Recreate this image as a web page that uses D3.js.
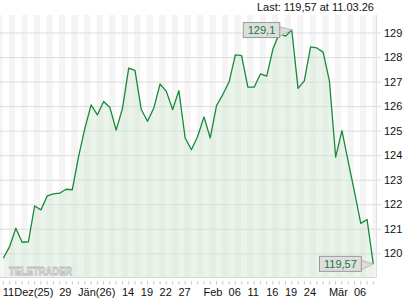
<!DOCTYPE html>
<html>
<head>
<meta charset="utf-8">
<script src="https://cdn.jsdelivr.net/npm/d3@7"></script>
<style>
  body { margin: 0; background: #fff; }
  svg text { font-family: Arial, "Liberation Sans", sans-serif; }
</style>
</head>
<body>
<svg id="svg" width="420" height="300"></svg>
<script>
// trading days shown on the chart
const dates = [
  "2025-12-11","2025-12-12","2025-12-15","2025-12-16","2025-12-17","2025-12-18","2025-12-19",
  "2025-12-22","2025-12-23","2025-12-29","2025-12-30",
  "2026-01-02","2026-01-05","2026-01-06","2026-01-07","2026-01-08","2026-01-09",
  "2026-01-12","2026-01-13","2026-01-14","2026-01-15","2026-01-16",
  "2026-01-19","2026-01-20","2026-01-21","2026-01-22","2026-01-23",
  "2026-01-26","2026-01-27","2026-01-28","2026-01-29","2026-01-30",
  "2026-02-02","2026-02-03","2026-02-04","2026-02-05","2026-02-06",
  "2026-02-09","2026-02-10","2026-02-11","2026-02-12","2026-02-13",
  "2026-02-16","2026-02-17","2026-02-18","2026-02-19","2026-02-20",
  "2026-02-23","2026-02-24","2026-02-25","2026-02-26","2026-02-27",
  "2026-03-02","2026-03-03","2026-03-04","2026-03-05","2026-03-06",
  "2026-03-09","2026-03-10","2026-03-11"
];
const prices = [
  119.8, 120.27, 121.02, 120.45, 120.47, 121.93, 121.77, 122.34, 122.42, 122.45,
  122.61, 122.59, 123.94, 125.08, 126.05, 125.64, 126.19, 125.94, 125.02, 125.9,
  127.55, 127.46, 125.86, 125.38, 125.92, 126.9, 126.6, 125.86, 126.63, 124.7,
  124.22, 124.77, 125.56, 124.7, 126.02, 126.47, 126.98, 128.09, 128.06, 126.77,
  126.77, 127.31, 127.22, 128.33, 128.96, 128.85, 129.1, 126.72, 127.03, 128.41,
  128.37, 128.2, 127.03, 123.92, 125.0, 123.74, 122.5, 121.22, 121.38, 119.57
];
const xTickDates = ["2025-12-11","2025-12-29","2026-01-05","2026-01-14","2026-01-19","2026-01-22","2026-01-27",
  "2026-02-02","2026-02-06","2026-02-11","2026-02-16","2026-02-19","2026-02-24","2026-03-02","2026-03-06"];
const xTickLabels = ["11Dez(25)","29","Jän(26)","14","19","22","27","Feb","06","11","16","19","24","Mär","06"];
const yTicks = [120, 121, 122, 123, 124, 125, 126, 127, 128, 129];
const lastLabel = "Last: 119,57 at 11.03.26";

const svg = d3.select("svg#svg");
const plot = {left: 0, right: 376.5, top: 15, bottom: 277.5};

const x = d3.scaleLinear().domain([0, dates.length - 1]).range([3.3, 373.3]);
const y = d3.scaleLinear().domain([120, 129]).range([253.3, 32.5]);

// striped background, one column per trading day
svg.append("rect").attr("x", plot.left).attr("y", plot.top)
  .attr("width", plot.right - plot.left).attr("height", plot.bottom - plot.top).attr("fill", "#fff");
const cols = d3.range(-1, dates.length).filter(i => Math.abs(i % 2) === 1);
svg.selectAll("rect.stripe").data(cols).enter().append("rect")
  .attr("class", "stripe")
  .attr("x", i => Math.max(plot.left, x(i) - 0.8))
  .attr("y", plot.top)
  .attr("width", i => Math.min(plot.right, x(i + 1) - 0.8) - Math.max(plot.left, x(i) - 0.8))
  .attr("height", plot.bottom - plot.top)
  .attr("fill", "#f4f4f4");

// horizontal grid + right axis
const yAxis = d3.axisRight(y).tickValues(yTicks).tickSize(plot.right + 4.5).tickPadding(3)
  .tickFormat(d3.format("d"));
const ya = svg.append("g").attr("transform", `translate(${plot.left},0)`).call(yAxis);
ya.select(".domain").remove();
ya.selectAll(".tick line").attr("stroke", "#dcdcdc");
ya.selectAll(".tick text").attr("font-size", 11).attr("fill", "#111").attr("font-family", "Arial, 'Liberation Sans', sans-serif");

// right border and bottom border
svg.append("line").attr("x1", plot.right).attr("x2", plot.right).attr("y1", plot.top).attr("y2", plot.bottom)
  .attr("stroke", "#e0e0e0");
svg.append("line").attr("x1", plot.left).attr("x2", plot.right).attr("y1", plot.bottom).attr("y2", plot.bottom)
  .attr("stroke", "#d6d6d6");

// area under the line
const area = d3.area().x((d, i) => x(i)).y0(plot.bottom).y1(d => y(d));
svg.append("path").datum(prices).attr("d", area).attr("fill", "#d2e6d2").attr("fill-opacity", 0.45);

// watermark
svg.append("text").attr("x", 9).attr("y", 275).attr("textLength", 63).attr("lengthAdjust", "spacingAndGlyphs")
  .attr("font-size", 11.5).attr("font-weight", "bold")
  .attr("font-family", "'DejaVu Sans Mono', monospace")
  .attr("fill", "#f4f6f4").attr("stroke", "#bdbdbd").attr("stroke-width", 0.9)
  .text("TELETRADER");

// price line
const line = d3.line().x((d, i) => x(i)).y(d => y(d));
svg.append("path").datum(prices).attr("d", line).attr("fill", "none")
  .attr("stroke", "#178a3a").attr("stroke-width", 1.3).attr("stroke-linejoin", "round");

// x axis ticks (one per day) and labels
svg.selectAll("line.xt").data(dates).enter().append("line").attr("class", "xt")
  .attr("x1", (d, i) => x(i)).attr("x2", (d, i) => x(i))
  .attr("y1", 281).attr("y2", 284.5).attr("stroke", "#c8c8c8");
svg.selectAll("text.xl").data(xTickDates).enter().append("text").attr("class", "xl")
  .attr("x", d => x(dates.indexOf(d)) - 0.5).attr("y", 296)
  .attr("font-size", 11).attr("fill", "#111")
  .text((d, i) => xTickLabels[i]);

// "Last" header
svg.append("text").attr("x", 374).attr("y", 11).attr("text-anchor", "end")
  .attr("font-size", 11).attr("fill", "#111").text(lastLabel);

// value callouts
function callout(idx, label) {
  const px = x(idx), py = y(prices[idx]);
  const g = svg.append("g");
  const t = g.append("text").attr("font-size", 11).attr("fill", "#1a7a3a").text(label);
  const w = t.node().getComputedTextLength() + 9;
  const h = 15;
  const bx = px - 12 - w, by = py - h / 2;
  g.insert("polygon", "text")
    .attr("points", `${bx + w - 1},${by + 4} ${px},${py} ${bx + w - 1},${by + h - 1}`)
    .attr("fill", "#dedede").attr("stroke", "#aaa").attr("stroke-width", 0.8);
  g.insert("rect", "text").attr("x", bx).attr("y", by).attr("width", w).attr("height", h)
    .attr("fill", "#dedede").attr("stroke", "#999");
  t.attr("x", bx + w / 2).attr("y", by + 11.5).attr("text-anchor", "middle");
}
const maxIdx = d3.maxIndex(prices);
callout(maxIdx, d3.format(".1f")(prices[maxIdx]).replace(".", ","));
callout(prices.length - 1, d3.format(".2f")(prices[prices.length - 1]).replace(".", ","));
</script>
</body>
</html>
